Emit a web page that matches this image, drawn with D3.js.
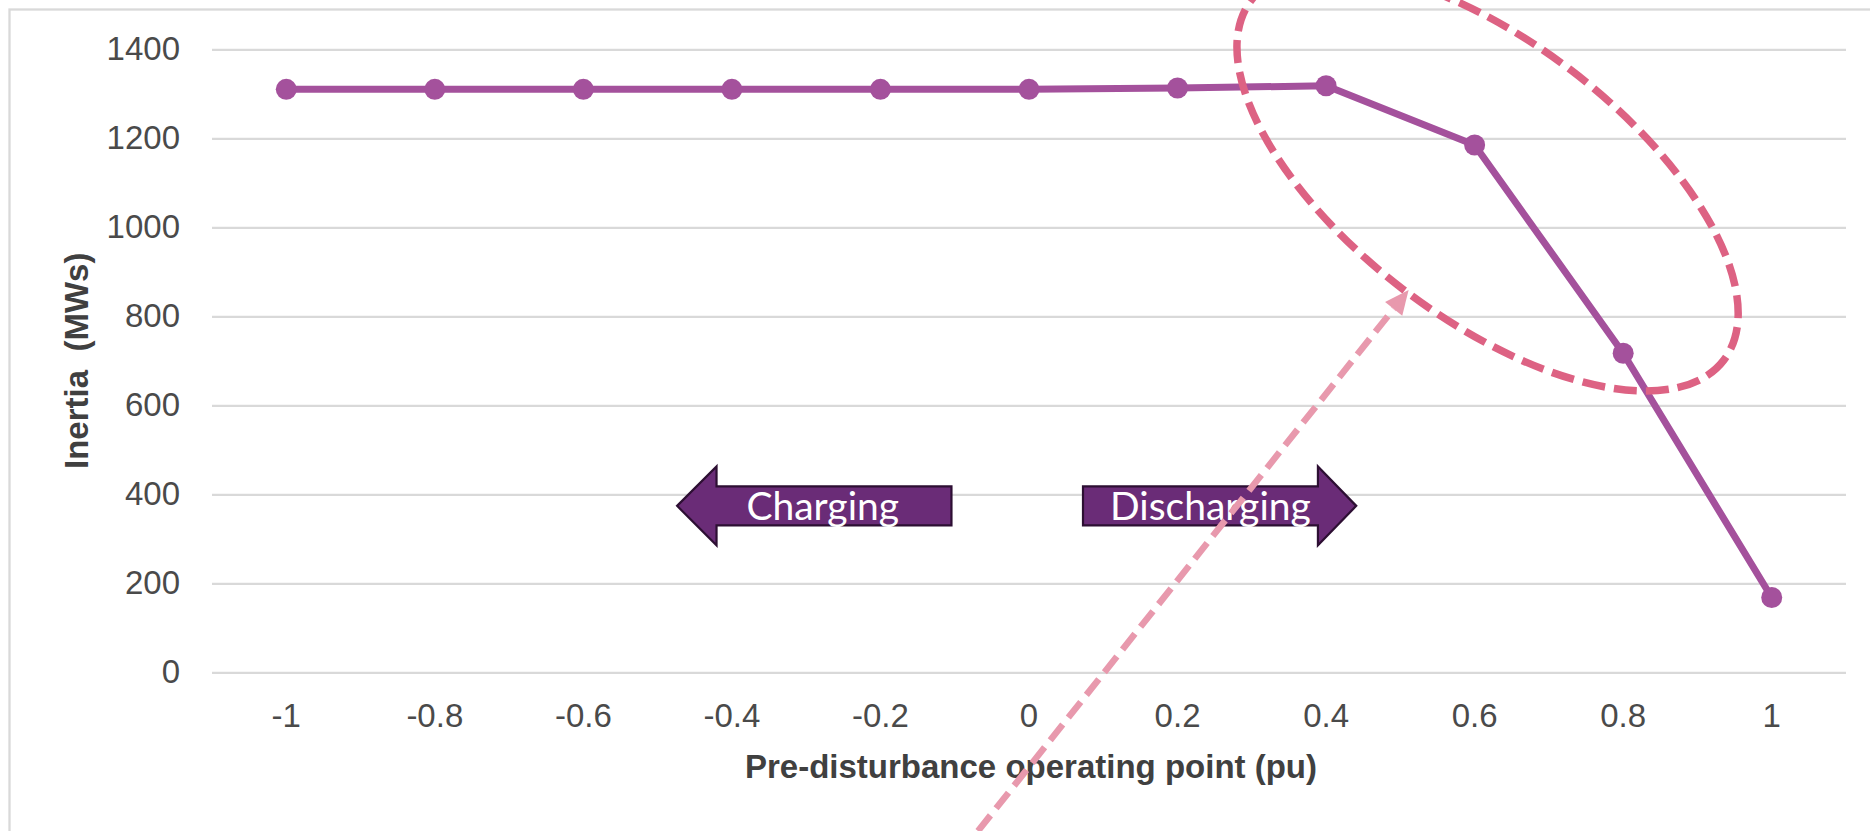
<!DOCTYPE html>
<html>
<head>
<meta charset="utf-8">
<script src="https://cdn.jsdelivr.net/npm/d3@7"></script>
<style>
  html, body { margin: 0; padding: 0; background: #ffffff; }
  svg { display: block; }
</style>
</head>
<body>
<svg id="chart" width="1870" height="831"></svg>
<script>
// ---- data ----
const categories = ["-1", "-0.8", "-0.6", "-0.4", "-0.2", "0", "0.2", "0.4", "0.6", "0.8", "1"];
const inertia = [1310, 1310, 1310, 1310, 1310, 1310, 1313, 1318, 1185, 717, 168];
const yTickValues = [0, 200, 400, 600, 800, 1000, 1200, 1400];
const xTitle = "Pre-disturbance operating point (pu)";
const yTitle = "Inertia  (MWs)";
const chargeLabels = ["Charging", "Discharging"];

// ---- layout ----
const plot = { left: 212, right: 1846, top: 49.3, bottom: 672.3 };
const svg = d3.select("#chart");
const fontSans = "'Liberation Sans', Arial, sans-serif";

// chart border (extends past right/bottom edges)
svg.append("rect")
  .attr("x", 9.5).attr("y", 9.5).attr("width", 1900).attr("height", 900)
  .attr("fill", "#ffffff").attr("stroke", "#d9d9d9").attr("stroke-width", 2.3);

const x = d3.scaleBand().domain(categories).range([plot.left, plot.right]).paddingInner(0).paddingOuter(0);
const y = d3.scaleLinear().domain([0, 1400]).range([plot.bottom, plot.top]);
// continuous helper for annotations placed in pu units
const xPu = d3.scaleLinear().domain([-1, 1])
  .range([x(categories[0]) + x.bandwidth() / 2, x(categories[categories.length - 1]) + x.bandwidth() / 2]);

// y axis + gridlines
const yAxis = svg.append("g")
  .attr("transform", `translate(${plot.left},0)`)
  .call(d3.axisLeft(y).tickValues(yTickValues).tickFormat(d3.format("d"))
    .tickSize(-(plot.right - plot.left)).tickPadding(32));
yAxis.select(".domain").remove();
yAxis.selectAll(".tick line").attr("stroke", "#d9d9d9").attr("stroke-width", 2.3);
yAxis.selectAll(".tick text")
  .attr("font-family", fontSans).attr("font-size", 33).attr("fill", "#4a4a4a");

// x axis
const xAxis = svg.append("g")
  .attr("transform", `translate(0,${plot.bottom})`)
  .call(d3.axisBottom(x).tickSize(0).tickPadding(31.5));
xAxis.select(".domain").remove();
xAxis.selectAll(".tick text")
  .attr("font-family", fontSans).attr("font-size", 33).attr("fill", "#4a4a4a");

// axis titles
svg.append("text")
  .attr("x", (plot.left + plot.right) / 2 + 2).attr("y", 778)
  .attr("text-anchor", "middle")
  .attr("font-family", fontSans).attr("font-size", 33).attr("font-weight", "bold")
  .attr("fill", "#404040")
  .text(xTitle);

svg.append("text")
  .attr("transform", `translate(88,${(plot.top + plot.bottom) / 2}) rotate(-90)`)
  .attr("text-anchor", "middle")
  .attr("font-family", fontSans).attr("font-size", 33).attr("font-weight", "bold")
  .attr("fill", "#404040")
  .style("white-space", "pre")
  .text(yTitle);

// series line + markers
const seriesColor = "#a4519c";
const pts = categories.map((c, i) => ({ c, v: inertia[i] }));
svg.append("path")
  .datum(pts)
  .attr("fill", "none").attr("stroke", seriesColor).attr("stroke-width", 7)
  .attr("stroke-linejoin", "round")
  .attr("d", d3.line().x(d => x(d.c) + x.bandwidth() / 2).y(d => y(d.v)));
svg.append("g").selectAll("circle").data(pts).join("circle")
  .attr("cx", d => x(d.c) + x.bandwidth() / 2)
  .attr("cy", d => y(d.v))
  .attr("r", 10.5)
  .attr("fill", seriesColor);

// ---- annotations: block arrows ----
const arrowFill = "#6a2c77", arrowStroke = "#2d0f33";
const arrowY = y(374);
const bodyHalf = 19.5, headHalf = 39.5;
function blockArrow(tipPu, basePu, tailPu) {
  const tip = xPu(tipPu), base = xPu(basePu), tail = xPu(tailPu);
  return `M${tip},${arrowY} L${base},${arrowY - headHalf} L${base},${arrowY - bodyHalf} L${tail},${arrowY - bodyHalf} ` +
         `L${tail},${arrowY + bodyHalf} L${base},${arrowY + bodyHalf} L${base},${arrowY + headHalf} Z`;
}
const arrowsG = svg.append("g");
arrowsG.append("path").attr("d", blockArrow(-0.4738, -0.4207, -0.1044))
  .attr("fill", arrowFill).attr("stroke", arrowStroke).attr("stroke-width", 2.2).attr("stroke-linejoin", "miter");
arrowsG.append("path").attr("d", blockArrow(0.4406, 0.3890, 0.0727))
  .attr("fill", arrowFill).attr("stroke", arrowStroke).attr("stroke-width", 2.2).attr("stroke-linejoin", "miter");
arrowsG.append("text")
  .attr("x", xPu(-0.2777)).attr("y", arrowY + 14.3)
  .attr("text-anchor", "middle").attr("font-family", "Lato, 'Open Sans', sans-serif")
  .attr("font-size", 39).attr("fill", "#ffffff")
  .text(chargeLabels[0]);
arrowsG.append("text")
  .attr("x", xPu(0.2443)).attr("y", arrowY + 14.3)
  .attr("text-anchor", "middle").attr("font-family", "Lato, 'Open Sans', sans-serif")
  .attr("font-size", 39).attr("fill", "#ffffff")
  .text(chargeLabels[1]);

// ---- annotations: dashed ellipse ----
svg.append("ellipse")
  .attr("transform", `translate(${xPu(0.6174)},${y(1106)}) rotate(37.3)`)
  .attr("rx", 297).attr("ry", 138)
  .attr("fill", "none").attr("stroke", "#dd6283").attr("stroke-width", 7.5)
  .attr("stroke-dasharray", "23,9");

// ---- annotations: dashed pointer arrow ----
const pStart = [978, 831];
const pTip = [xPu(0.5111), y(859)];
const ang = Math.atan2(pTip[1] - pStart[1], pTip[0] - pStart[0]);
const headLen = 24, headW = 11;
const baseC = [pTip[0] - headLen * Math.cos(ang), pTip[1] - headLen * Math.sin(ang)];
svg.append("line")
  .attr("x1", pStart[0]).attr("y1", pStart[1])
  .attr("x2", baseC[0]).attr("y2", baseC[1])
  .attr("stroke", "#e899ad").attr("stroke-width", 6.5).attr("stroke-dasharray", "20,9");
const nx = -Math.sin(ang), ny = Math.cos(ang);
svg.append("path")
  .attr("d", `M${pTip[0]},${pTip[1]} L${baseC[0] + nx * headW},${baseC[1] + ny * headW} L${baseC[0] - nx * headW},${baseC[1] - ny * headW} Z`)
  .attr("fill", "#e899ad");
</script>
</body>
</html>
